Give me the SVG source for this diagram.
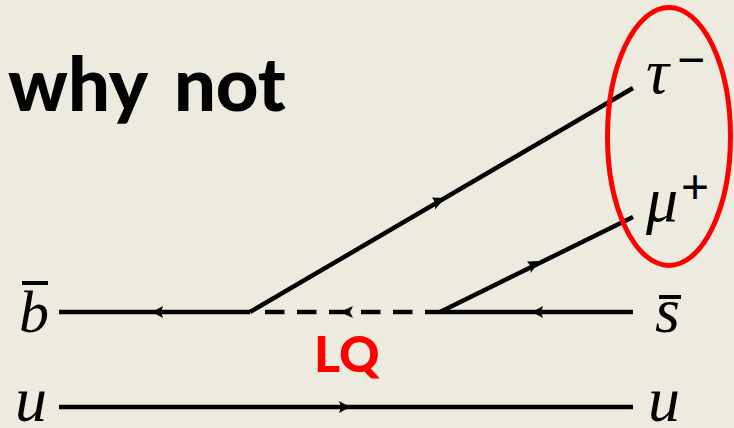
<svg xmlns="http://www.w3.org/2000/svg" width="734" height="428" viewBox="0 0 734 428">
<style>
.l{stroke:#000;stroke-width:4.500;fill:none}
.a{fill:#000}
.m{font-family:"Liberation Serif",serif;font-style:italic;font-size:64px;fill:#000}
.s{font-family:"Liberation Sans",sans-serif;font-size:48px;fill:#000}
.b{stroke:#000;stroke-width:4;fill:none}
.h{font-family:Lato,sans-serif;font-weight:900}
</style>
<rect width="734" height="428" fill="#edebe0"/>
<g id="connectors">
<path class="l" d="M59 312H250"/>
<path class="l" d="M265 312H440" stroke-dasharray="19.500 12.500"/>
<path class="l" d="M440 312H633"/>
<path class="l" d="M59 407H633"/>
<path class="l" d="M250 312L633 88"/>
<path class="l" d="M440 312L633 217"/>
<path class="a" d="M152 312l11-6-2 6 2 6z"/>
<path class="a" d="M340 312l13-6-3 6 3 6z"/>
<path class="a" d="M532 312l11-6-2 6 2 6z"/>
<path class="a" d="M350 407l-11-6 2 6-2 6z"/>
<path class="a" d="M445 198l-13-.5 3.500 5.500-.5 6.500z"/>
<path class="a" d="M540 261l-13 .5 4 5-.5 6.500z"/>
</g>
<g id="title"><text class="h" x="8" y="111" font-size="74" fill="#000" word-spacing="10">why not</text></g>
<g id="b"><text class="m" x="19" y="332" style="font-size:60px">b</text><path class="b" d="M22 283H48"/></g>
<g id="u-left"><text class="m" x="15" y="421">u</text></g>
<g id="s"><text class="m" x="655" y="332">s</text><path class="b" d="M659 297H681"/></g>
<g id="u-right"><text class="m" x="648" y="421">u</text></g>
<g id="tau"><text class="m" x="646" y="93">τ</text><text class="s" x="677" y="76">−</text></g>
<g id="mu"><text class="m" x="646" y="221">μ</text><text class="s" x="681" y="203">+</text></g>
<g id="lq"><text class="h" x="314" y="372" font-size="50" fill="#f00">LQ</text></g>
<g id="ellipse"><ellipse cx="669" cy="136.500" rx="61.500" ry="129" fill="none" stroke="#f00" stroke-width="5"/></g>
</svg>
